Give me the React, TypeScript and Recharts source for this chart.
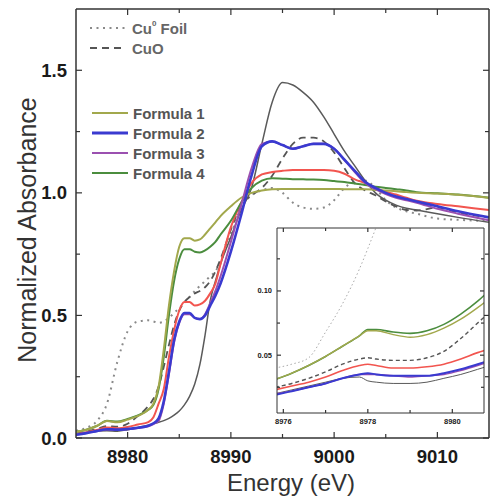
import { LineChart, Line, XAxis, YAxis } from "recharts";

// Cu K-edge XANES, main panel
const energy = [
  8975, 8976, 8977, 8978, 8979, 8980, 8981, 8982, 8982.5, 8983, 8983.5, 8984, 8984.5, 8985, 8985.5,
  8986, 8986.5, 8987, 8987.5, 8988, 8988.5, 8989, 8990, 8991, 8992, 8993, 8994, 8995, 8996, 8997,
  8998, 8999, 9000, 9001, 9002, 9003, 9004, 9005, 9006, 9007, 9008, 9010, 9012, 9015,
];
const cuFoil = [
  0.03, 0.041, 0.068, 0.14, 0.31, 0.435, 0.475, 0.48, 0.475, 0.47, 0.475, 0.49, 0.51, 0.53, 0.55,
  0.575, 0.6, 0.62, 0.64, 0.66, 0.68, 0.72, 0.83, 0.94, 0.99, 1.01, 1.02, 1.0, 0.96, 0.94,
  0.935, 0.94, 0.97, 1.02, 1.045, 1.05, 1.02, 0.97, 0.94, 0.925, 0.915, 0.895, 0.89, 0.885,
];
const cuO = [
  0.018, 0.026, 0.037, 0.048, 0.046, 0.058, 0.09, 0.13, 0.16, 0.21, 0.29, 0.38, 0.46, 0.52, 0.555,
  0.575, 0.59, 0.6, 0.615, 0.64, 0.68, 0.73, 0.85, 0.95, 0.99, 1.02, 1.07, 1.14, 1.2, 1.225,
  1.225, 1.21, 1.165, 1.1, 1.04, 1.01, 0.99, 0.965, 0.945, 0.93, 0.928, 0.94, 0.92, 0.9,
];
const refGray = [
  0.014, 0.021, 0.029, 0.03, 0.028, 0.034, 0.043, 0.052, 0.058, 0.064, 0.071, 0.08, 0.093, 0.11, 0.135,
  0.17, 0.22, 0.3, 0.42, 0.56, 0.64, 0.71, 0.82, 0.93, 1.02, 1.2, 1.37, 1.45, 1.44, 1.41,
  1.37, 1.31, 1.24, 1.17, 1.11, 1.05, 1.0, 0.97, 0.95, 0.937, 0.93, 0.915, 0.9, 0.88,
];
const refRed = [
  0.016, 0.024, 0.033, 0.043, 0.04, 0.045, 0.055, 0.065, 0.085, 0.14, 0.2, 0.33, 0.44, 0.52, 0.555,
  0.555, 0.54, 0.545, 0.56, 0.59, 0.63, 0.71, 0.86, 0.96, 1.04, 1.075, 1.085, 1.09, 1.093, 1.093,
  1.093, 1.093, 1.09, 1.078, 1.055, 1.04, 1.02, 1.005, 0.993, 0.98, 0.968, 0.955, 0.945, 0.93,
];
const formula1 = [
  0.025, 0.034, 0.049, 0.069, 0.064, 0.075, 0.09, 0.115, 0.14, 0.21, 0.36, 0.54, 0.68, 0.78, 0.815,
  0.815, 0.805, 0.81, 0.83, 0.855, 0.88, 0.905, 0.945, 0.98, 1.0, 1.01, 1.015, 1.016, 1.016, 1.016,
  1.016, 1.016, 1.016, 1.015, 1.015, 1.015, 1.012, 1.01, 1.007, 1.003, 1.0, 0.997, 0.992, 0.98,
];
const formula2 = [
  0.013, 0.02, 0.028, 0.036, 0.034, 0.037, 0.042, 0.05, 0.06, 0.08, 0.15, 0.27, 0.4, 0.475, 0.51,
  0.51, 0.49, 0.485, 0.5, 0.54, 0.58, 0.63, 0.76, 0.91, 1.07, 1.19, 1.21, 1.195, 1.18, 1.19,
  1.2, 1.2, 1.18, 1.135, 1.09, 1.045, 1.02, 1.0, 0.985, 0.975, 0.965, 0.945, 0.925, 0.9,
];
const formula3 = [
  0.013, 0.02, 0.028, 0.035, 0.033, 0.036, 0.041, 0.048, 0.057, 0.07, 0.14, 0.26, 0.39, 0.47, 0.505,
  0.505, 0.49, 0.485, 0.505, 0.55, 0.6, 0.66, 0.8, 0.95, 1.1, 1.2, 1.21, 1.195, 1.18, 1.19,
  1.2, 1.2, 1.18, 1.135, 1.085, 1.04, 1.015, 0.995, 0.98, 0.97, 0.96, 0.935, 0.915, 0.888,
];
const formula4 = [
  0.025, 0.034, 0.049, 0.07, 0.067, 0.078, 0.092, 0.115, 0.135, 0.2, 0.33, 0.5, 0.64, 0.73, 0.77,
  0.77, 0.76, 0.757, 0.765, 0.78, 0.8, 0.83, 0.886, 0.96, 1.02, 1.05, 1.06, 1.058, 1.056, 1.055,
  1.054, 1.052, 1.048, 1.044, 1.038, 1.032, 1.025, 1.02, 1.015, 1.01, 1.003, 0.998, 0.993, 0.98,
];

// pre-edge inset
const insetEnergy = [
  8975.8, 8976.2, 8976.6, 8977.0, 8977.4, 8977.8, 8978.0, 8978.2, 8978.6, 8979.0, 8979.4, 8979.8,
  8980.2, 8980.6, 8980.8,
];
const insetFoil = [0.04, 0.043, 0.048, 0.068, 0.09, 0.117, 0.133, 0.15, 0.19, 0.3, 0.37, 0.41, 0.44, 0.46, 0.465];
const insetCuO = [0.025, 0.028, 0.032, 0.037, 0.043, 0.047, 0.048, 0.047, 0.046, 0.046, 0.048, 0.053, 0.063, 0.075, 0.081];
const insetGray = [0.02, 0.023, 0.026, 0.029, 0.032, 0.033, 0.03, 0.029, 0.028, 0.028, 0.029, 0.032, 0.035, 0.039, 0.041];
const insetRed = [0.023, 0.026, 0.029, 0.033, 0.038, 0.042, 0.043, 0.042, 0.04, 0.04, 0.041, 0.043, 0.047, 0.052, 0.054];
const insetF1 = [0.031, 0.036, 0.042, 0.049, 0.057, 0.065, 0.069, 0.069, 0.066, 0.064, 0.066, 0.071, 0.078, 0.087, 0.092];
const insetF2 = [0.019, 0.022, 0.025, 0.028, 0.032, 0.035, 0.036, 0.035, 0.034, 0.034, 0.034, 0.036, 0.039, 0.043, 0.045];
const insetF3 = [0.02, 0.022, 0.025, 0.028, 0.032, 0.035, 0.035, 0.035, 0.034, 0.033, 0.034, 0.035, 0.038, 0.042, 0.044];
const insetF4 = [0.031, 0.036, 0.042, 0.049, 0.057, 0.065, 0.07, 0.07, 0.068, 0.067, 0.069, 0.074, 0.082, 0.092, 0.098];

const xTicks = [8980, 8985, 8990, 8995, 9000, 9005, 9010];
const xMajor = [8980, 8990, 9000, 9010];
const yTicks = [0, 0.25, 0.5, 0.75, 1.0, 1.25, 1.5];
const yMajor = [0, 0.5, 1.0, 1.5];
const insetXTicks = [8976, 8977, 8978, 8979, 8980];
const insetXMajor = [8976, 8978, 8980];
const insetYTicks = [0.025, 0.05, 0.075, 0.1, 0.125];
const insetYMajor = [0.05, 0.1];

const refNames = ["Cu", "CuO"];
const formulaNames = ["Formula 1", "Formula 2", "Formula 3", "Formula 4"];

const C = {
  foil: "#8a8a8a",
  cuo: "#555555",
  gray: "#5a5a5a",
  red: "#f2554f",
  f1: "#a2a84c",
  f2: "#3a3ad0",
  f3: "#9b50b0",
  f4: "#4b8d3e",
};
const formulaColors = [C.f1, C.f2, C.f3, C.f4];
const formulaWidths = [2, 3, 2, 2];

const mainData = energy.map((e, i) => ({
  energy: e,
  foil: cuFoil[i],
  cuo: cuO[i],
  gray: refGray[i],
  red: refRed[i],
  f1: formula1[i],
  f2: formula2[i],
  f3: formula3[i],
  f4: formula4[i],
}));

const insetData = insetEnergy.map((e, i) => ({
  energy: e,
  foil: insetFoil[i],
  cuo: insetCuO[i],
  gray: insetGray[i],
  red: insetRed[i],
  f1: insetF1[i],
  f2: insetF2[i],
  f3: insetF3[i],
  f4: insetF4[i],
}));

const AXIS = "#333";
const FONT = "Liberation Sans, Arial, sans-serif";

function makeTick(
  side: "left" | "right" | "top" | "bottom",
  majors: number[],
  opts: { major: number; minor: number; font?: number; gap?: number; fmt?: (v: number) => string; label?: boolean },
) {
  return (p: any) => {
    const { x, y } = p;
    const v = p.payload.value;
    const isMajor = majors.some((m) => Math.abs(m - v) < 1e-6);
    const len = isMajor ? opts.major : opts.minor;
    const text = opts.label && isMajor && opts.fmt ? opts.fmt(v) : null;
    let line;
    if (side === "bottom") line = <line x1={x} y1={y} x2={x} y2={y - len} />;
    else if (side === "top") line = <line x1={x} y1={y} x2={x} y2={y + len} />;
    else if (side === "left") line = <line x1={x} y1={y} x2={x + len} y2={y} />;
    else line = <line x1={x} y1={y} x2={x - len} y2={y} />;
    return (
      <g>
        <g stroke={AXIS} strokeWidth={1.2}>{line}</g>
        {text && side === "bottom" && (
          <text x={x} y={y + (opts.gap ?? 0)} textAnchor="middle" fontSize={opts.font} fontWeight="bold" fill="#1a1a1a" stroke="none" fontFamily={FONT}>
            {text}
          </text>
        )}
        {text && side === "left" && (
          <text x={x - (opts.gap ?? 0)} y={y} textAnchor="end" dominantBaseline="central" fontSize={opts.font} fontWeight="bold" fill="#1a1a1a" stroke="none" fontFamily={FONT}>
            {text}
          </text>
        )}
      </g>
    );
  };
}

function series(d: "main" | "inset") {
  const thin = d === "inset";
  return [
    <Line key="foil" dataKey="foil" stroke={thin ? "#aaa" : C.foil} strokeWidth={thin ? 1 : 2} strokeDasharray={thin ? "1.5 2.5" : "2 4.5"} dot={false} type="monotone" isAnimationActive={false} />,
    <Line key="cuo" dataKey="cuo" stroke={C.cuo} strokeWidth={thin ? 1.4 : 1.8} strokeDasharray={thin ? "4 3" : "7 5"} dot={false} type="monotone" isAnimationActive={false} />,
    <Line key="gray" dataKey="gray" stroke={C.gray} strokeWidth={thin ? 1 : 1.5} dot={false} type="monotone" isAnimationActive={false} />,
    <Line key="red" dataKey="red" stroke={C.red} strokeWidth={thin ? 1.6 : 2} dot={false} type="monotone" isAnimationActive={false} />,
    <Line key="f4" dataKey="f4" stroke={C.f4} strokeWidth={thin ? 1.6 : 2} dot={false} type="monotone" isAnimationActive={false} />,
    <Line key="f1" dataKey="f1" stroke={C.f1} strokeWidth={thin ? 1.4 : 2} dot={false} type="monotone" isAnimationActive={false} />,
    <Line key="f3" dataKey="f3" stroke={C.f3} strokeWidth={thin ? 1.4 : 2} dot={false} type="monotone" isAnimationActive={false} />,
    <Line key="f2" dataKey="f2" stroke={C.f2} strokeWidth={thin ? 2 : 2.6} dot={false} type="monotone" isAnimationActive={false} />,
  ];
}

export default function App() {
  return (
    <div style={{ position: "absolute", left: 0, top: 0, width: 491, height: 502, background: "#fff", fontFamily: FONT }}>
      <LineChart width={491} height={502} data={mainData} margin={{ top: 8, right: 0, bottom: 0, left: 0 }}>
        <XAxis
          dataKey="energy"
          type="number"
          domain={[8975, 9015]}
          allowDataOverflow
          ticks={xTicks}
          interval={0}
          height={64}
          tickSize={0}
          tickMargin={0}
          tickLine={false}
          axisLine={{ stroke: AXIS, strokeWidth: 1.5 }}
          tick={makeTick("bottom", xMajor, { major: 6, minor: 4, font: 18.5, gap: 25, label: true, fmt: (v) => String(v) })}
        />
        <XAxis
          xAxisId="top"
          orientation="top"
          dataKey="energy"
          type="number"
          domain={[8975, 9015]}
          allowDataOverflow
          ticks={xTicks}
          interval={0}
          height={1}
          tickSize={0}
          tickMargin={0}
          tickLine={false}
          axisLine={{ stroke: AXIS, strokeWidth: 1.5 }}
          tick={makeTick("top", xMajor, { major: 6, minor: 4 })}
        />
        <YAxis
          type="number"
          domain={[0, 1.75]}
          allowDataOverflow
          ticks={yTicks}
          interval={0}
          width={76}
          tickSize={0}
          tickMargin={0}
          tickLine={false}
          axisLine={{ stroke: AXIS, strokeWidth: 1.5 }}
          tick={makeTick("left", yMajor, { major: 6, minor: 4, font: 18.5, gap: 9, label: true, fmt: (v) => v.toFixed(1) })}
        />
        <YAxis
          yAxisId="right"
          orientation="right"
          type="number"
          domain={[0, 1.75]}
          allowDataOverflow
          ticks={yTicks}
          interval={0}
          width={2}
          tickSize={0}
          tickMargin={0}
          tickLine={false}
          axisLine={{ stroke: AXIS, strokeWidth: 1.5 }}
          tick={makeTick("right", yMajor, { major: 6, minor: 4 })}
        />
        {series("main")}
      </LineChart>

      {/* inset background */}
      <div style={{ position: "absolute", left: 277, top: 228, width: 207, height: 185, background: "#fff" }} />
      <div style={{ position: "absolute", left: 240, top: 220 }}>
        <LineChart width={250} height={215} data={insetData} margin={{ top: 7, right: 4, bottom: 0, left: 0 }}>
          <XAxis
            dataKey="energy"
            type="number"
            domain={[8975.85, 8980.75]}
            allowDataOverflow
            ticks={insetXTicks}
            interval={0}
            height={22}
            tickSize={0}
            tickMargin={0}
            tickLine={false}
            axisLine={{ stroke: AXIS, strokeWidth: 1 }}
            tick={makeTick("bottom", insetXMajor, { major: 4, minor: 3, font: 7.5, gap: 11, label: true, fmt: (v) => String(v) })}
          />
          <XAxis
            xAxisId="top"
            orientation="top"
            dataKey="energy"
            type="number"
            domain={[8975.85, 8980.75]}
            allowDataOverflow
            ticks={insetXTicks}
            interval={0}
            height={1}
            tickSize={0}
            tickMargin={0}
            tickLine={false}
            axisLine={{ stroke: AXIS, strokeWidth: 1 }}
            tick={makeTick("top", insetXMajor, { major: 4, minor: 3 })}
          />
          <YAxis
            type="number"
            domain={[0.005, 0.149]}
            allowDataOverflow
            ticks={insetYTicks}
            interval={0}
            width={37}
            tickSize={0}
            tickMargin={0}
            tickLine={false}
            axisLine={{ stroke: AXIS, strokeWidth: 1 }}
            tick={makeTick("left", insetYMajor, { major: 4, minor: 3, font: 7.5, gap: 5, label: true, fmt: (v) => v.toFixed(2) })}
          />
          <YAxis
            yAxisId="right"
            orientation="right"
            type="number"
            domain={[0.005, 0.149]}
            allowDataOverflow
            ticks={insetYTicks}
            interval={0}
            width={2}
            tickSize={0}
            tickMargin={0}
            tickLine={false}
            axisLine={{ stroke: AXIS, strokeWidth: 1 }}
            tick={makeTick("right", insetYMajor, { major: 4, minor: 3 })}
          />
          {series("inset")}
        </LineChart>
      </div>

      {/* legend + axis titles */}
      <svg width={491} height={502} style={{ position: "absolute", left: 0, top: 0, pointerEvents: "none" }} fontFamily={FONT}>
        <line x1={90} y1={28} x2={125} y2={28} stroke={C.foil} strokeWidth={2} strokeDasharray="2 4.5" />
        <text x={132} y={33.5} fontSize={15} fontWeight="bold" fill="#666">
          {refNames[0]}
          <tspan fontSize={8} dy={-8}>0</tspan>
          <tspan dy={8}> Foil</tspan>
        </text>
        <line x1={90} y1={48} x2={125} y2={48} stroke={C.cuo} strokeWidth={1.8} strokeDasharray="7 5" />
        <text x={132} y={53.5} fontSize={15} fontWeight="bold" fill="#666">{refNames[1]}</text>
        {formulaNames.map((n, i) => (
          <g key={n}>
            <line x1={92} y1={113 + i * 20} x2={128} y2={113 + i * 20} stroke={formulaColors[i]} strokeWidth={formulaWidths[i]} />
            <text x={133} y={118.5 + i * 20} fontSize={15} fontWeight="bold" fill="#555">{n}</text>
          </g>
        ))}
        <text x={291} y={491} textAnchor="middle" fontSize={24} fill="#333">Energy (eV)</text>
        <text x={27} y={230} textAnchor="middle" dominantBaseline="central" fontSize={25} fill="#333" transform="rotate(-90 27 230)">Normalized Absorbance</text>
      </svg>
    </div>
  );
}
